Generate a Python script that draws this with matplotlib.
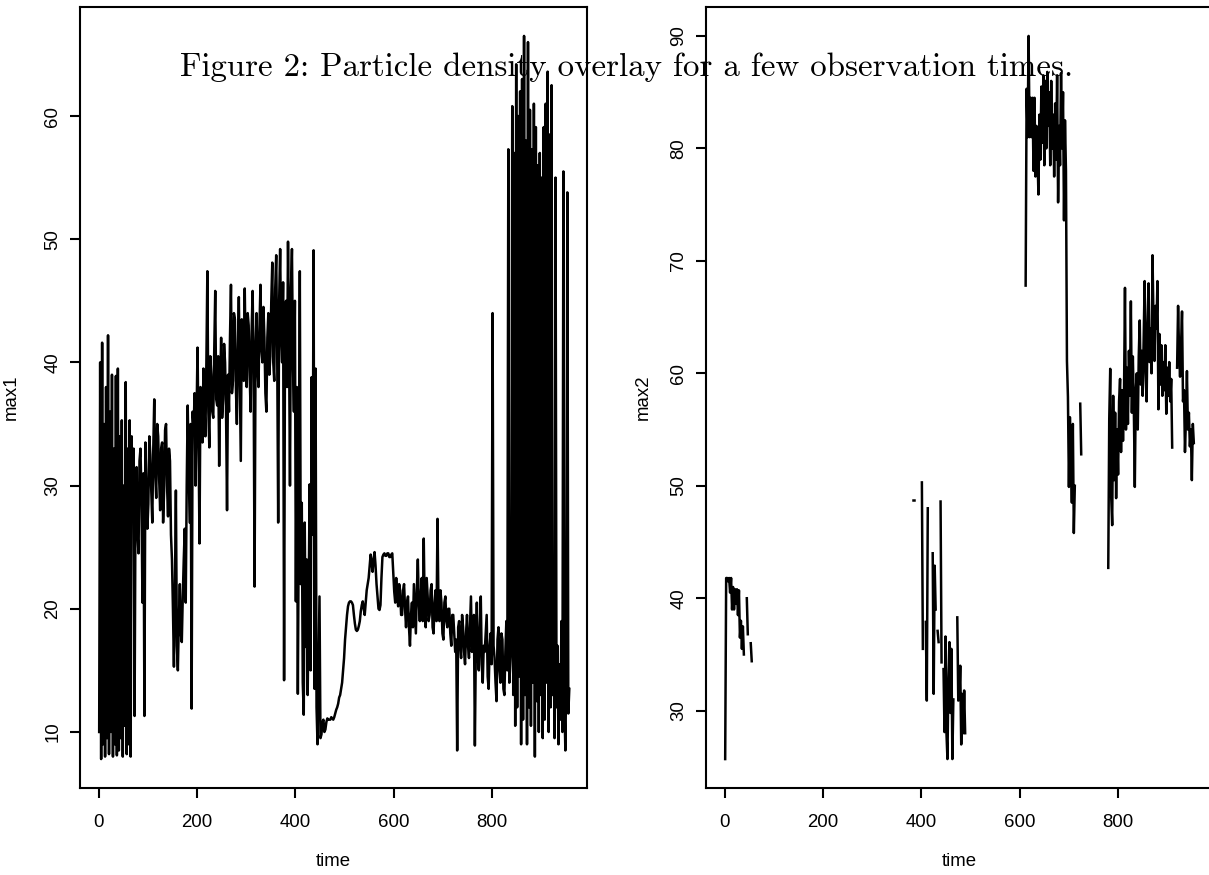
import numpy as np
import matplotlib
matplotlib.use("Agg")
import matplotlib.pyplot as plt

# max1: sampled every 2 time steps
time1 = np.arange(1, 958, 2)
max1 = [
    10.0, 40.0, 7.8, 41.6, 9.0, 35.0, 8.0, 38.0, 9.5, 42.2, 8.2, 36.0, 10.0, 39.0, 8.0, 33.0, 9.0, 38.9, 8.1, 39.5,
    8.5, 34.0, 9.5, 35.3, 8.0, 30.0, 10.5, 38.4, 8.2, 33.0, 9.0, 35.3, 8.0, 34.0, 28.0, 33.0, 11.3, 30.0, 31.5, 26.0,
    24.5, 32.0, 33.0, 29.0, 20.5, 31.0, 11.3, 33.5, 30.0, 26.5, 28.5, 34.0, 32.5, 29.5, 27.0, 33.0, 37.0, 31.0, 29.0, 35.0,
    34.0, 30.5, 28.0, 33.0, 33.5, 27.0, 29.5, 34.5, 35.0, 30.0, 27.5, 33.0, 32.0, 26.0, 24.0, 20.0, 15.3, 21.5, 29.6, 17.0,
    15.0, 19.0, 22.0, 18.0, 17.3, 21.0, 24.0, 26.5, 20.5, 30.0, 36.5, 32.0, 27.0, 35.0, 11.9, 36.0, 34.5, 37.5, 30.0, 35.5,
    41.2, 34.0, 25.3, 38.0, 36.0, 33.5, 39.5, 36.5, 34.0, 40.0, 47.4, 36.0, 33.1, 40.5, 39.0, 36.0, 35.5, 41.0, 45.8, 37.0,
    36.5, 40.5, 31.6, 38.0, 42.0, 35.5, 37.0, 41.5, 40.0, 36.0, 28.0, 39.0, 36.0, 42.0, 46.3, 37.5, 38.5, 44.0, 43.5, 38.0,
    35.0, 41.0, 45.3, 39.0, 32.0, 43.5, 42.0, 38.5, 46.0, 40.0, 38.0, 44.0, 43.0, 39.0, 36.0, 42.5, 45.8, 40.0, 21.8, 41.0,
    44.0, 39.5, 38.0, 43.0, 46.3, 41.0, 40.0, 44.5, 42.0, 37.5, 36.0, 42.0, 44.0, 39.0, 40.5, 45.0, 48.1, 40.0, 38.5, 46.0,
    48.7, 41.0, 27.0, 45.0, 49.2, 42.0, 40.0, 46.5, 14.2, 44.0, 45.0, 38.0, 49.8, 42.0, 30.0, 46.0, 49.2, 40.0, 36.0, 45.0,
    20.6, 38.0, 13.1, 28.0, 47.4, 22.0, 28.6, 14.0, 11.4, 27.0, 16.9, 24.0, 13.0, 21.0, 30.1, 15.0, 38.8, 26.0, 49.1, 13.5,
    39.5, 12.0, 9.0, 15.0, 21.0, 9.5, 9.8, 10.8, 11.0, 10.0, 10.2, 10.8, 11.1, 11.0, 11.0, 11.0, 11.2, 11.1, 11.0, 11.2,
    11.5, 11.8, 12.0, 12.3, 12.8, 13.0, 13.5, 14.0, 15.0, 16.0, 17.5, 18.5, 19.5, 20.2, 20.5, 20.6, 20.6, 20.5, 20.3, 19.5,
    18.8, 18.3, 18.2, 18.3, 18.6, 19.0, 19.8, 20.3, 20.6, 20.0, 19.5, 20.5, 21.5, 22.0, 22.5, 23.5, 24.4, 23.8, 23.0, 24.0,
    24.6, 23.5, 22.0, 21.0, 20.0, 19.9, 20.3, 22.5, 24.2, 24.4, 24.5, 24.3, 24.3, 24.5, 24.5, 24.2, 24.2, 24.4, 24.5, 23.0,
    21.4, 20.5, 22.5, 21.0, 20.2, 22.0, 21.5, 19.5, 19.5, 21.5, 22.0, 20.0, 18.5, 20.5, 21.0, 18.5, 17.0, 19.5, 20.5, 18.5,
    22.0, 20.0, 18.0, 21.5, 24.0, 20.5, 19.0, 21.0, 22.5, 19.0, 25.7, 20.0, 18.5, 22.5, 21.0, 19.0, 19.5, 21.5, 22.0, 18.5,
    18.0, 20.5, 21.5, 19.0, 27.3, 20.0, 19.0, 21.5, 20.5, 18.0, 17.5, 20.5, 21.0, 19.0, 18.5, 20.0, 20.0, 18.0, 17.0, 19.5,
    19.5, 18.0, 16.5, 17.5, 8.5, 18.5, 19.0, 17.0, 16.0, 19.5, 18.5, 16.5, 15.5, 18.0, 19.5, 17.0, 16.0, 18.5, 21.0, 16.5,
    17.5, 19.5, 8.9, 17.0, 20.5, 16.0, 15.0, 18.5, 21.0, 15.5, 14.0, 17.0, 16.5, 18.0, 19.5, 14.5, 13.5, 17.0, 18.0, 15.5,
    44.0, 17.0, 16.0, 14.0, 12.5, 17.5, 18.5, 15.0, 14.0, 18.0, 17.5, 13.5, 13.0, 16.5, 19.0, 15.0, 57.3, 14.0, 15.5, 17.0,
    60.8, 13.0, 57.0, 10.5, 64.2, 12.0, 60.0, 14.5, 62.0, 9.0, 63.0, 11.0, 66.5, 13.0, 58.0, 9.0, 66.0, 12.0, 60.5, 10.5,
    57.3, 14.0, 61.0, 8.0, 59.1, 12.5, 56.0, 10.0, 57.0, 13.0, 55.0, 9.5, 59.1, 11.0, 61.0, 14.0, 63.6, 10.0, 58.5, 12.0,
    62.5, 13.0, 18.0, 9.5, 55.0, 12.0, 17.0, 9.0, 15.5, 11.0, 19.0, 10.0, 55.5, 12.5, 8.5, 16.0, 53.8, 11.5, 13.5,
]

# max2: observed pieces, every 2 time steps, nan = missing
nan = np.nan
time2_a = np.arange(1, 57, 2)
max2_a = [25.7, 41.8, 41.8, 41.5, 41.8, 40.5, 41.8, 39.0, 41.0, 39.0,
          40.8, 39.5, 40.8, 38.5, 40.7, 36.5, 38.0, 35.5, 37.5, 35.0,
          nan, nan, 40.0, 36.8, nan, nan, 36.0, 34.4]
time2_b = [383, 384]
max2_b = [48.7, 48.7]
time2_c = np.arange(401, 491, 2)
max2_c = [50.3, 35.5, nan, nan, 37.9, 30.9, 48.0, nan, nan, nan,
          nan, 44.0, 31.5, 42.9, 39.0, nan, 37.1, 36.1, nan, 48.6,
          34.3, nan, 33.7, 28.1, 36.6, 28.0, 25.7, 33.0, 36.1, 29.8,
          35.5, 25.7, 31.0, nan, nan, nan, 38.3, 30.9, 31.0, 34.0,
          27.0, 31.5, 28.0, 31.8, 28.0]
time2_d = np.arange(612, 714, 2)
max2_d = [67.8, 85.3, 81.0, 90.0, 81.0, 84.5, 81.0, 84.5, 78.0, 84.5,
          77.5, 82.0, 79.5, 75.9, 83.0, 79.0, 85.5, 80.5, 86.5, 78.5,
          86.0, 80.0, 86.8, 82.0, 85.0, 78.5, 86.0, 80.0, 83.0, 77.5,
          84.0, 79.0, 86.5, 75.2, 82.0, 78.5, 86.7, 80.0, 85.0, 73.6,
          82.5, 78.0, 61.1, 57.9, 49.9, 56.1, 53.0, 48.5, 55.5, 45.8,
          50.0]
time2_e = [723, 725]
max2_e = [57.3, 52.8]
time2_f = np.arange(780, 956, 2)
max2_f = [42.7, 55.9, 60.4, 49.0, 46.5, 58.0, 50.5, 56.5, 48.9, 55.0,
          51.0, 57.5, 59.5, 53.0, 58.5, 54.0, 58.0, 67.6, 55.0, 60.5,
          55.5, 62.0, 58.0, 66.4, 56.5, 61.5, 57.0, 49.9, 58.5, 60.0,
          55.0, 61.5, 64.7, 59.0, 62.0, 58.0, 63.0, 68.2, 60.0, 57.5,
          64.5, 68.0, 61.0, 64.0, 60.0, 70.5, 64.5, 61.1, 66.0, 64.0,
          68.2, 56.8, 63.5, 59.0, 62.5, 58.0, 61.0, 58.5, 62.5, 56.4,
          60.5, 58.0, 61.0, 57.5, 59.5, 53.4, nan, nan, nan, nan,
          60.5, 66.0, 62.0, 59.7, 62.5, 65.5, 57.5, 58.5, 53.0, 56.0,
          60.2, 55.0, 56.5, 53.5, 55.0, 50.5, 55.5, 53.8]

W, H = 1209, 875
fig = plt.figure(figsize=(W / 100, H / 100), dpi=100)
tick_font = "Liberation Sans"
lw = 1.8


def r_axes(rect, ylab, yticks):
    ax = fig.add_axes(rect)
    ax.set_xlim(-38, 993)
    ax.set_xticks([0, 200, 400, 600, 800])
    ax.set_yticks(yticks)
    for s in ax.spines.values():
        s.set_linewidth(1.5)
    ax.tick_params(length=7, width=1.5, labelsize=13.4)
    ax.tick_params(axis="x", pad=12)
    ax.tick_params(axis="y", pad=6.5)
    for lab in ax.get_yticklabels():
        lab.set_rotation(90)
        lab.set_va("center")
    for lab in ax.get_xticklabels() + ax.get_yticklabels():
        lab.set_fontfamily(tick_font)
    ax.set_xlabel("time", fontsize=13.4, fontfamily=tick_font)
    ax.set_ylabel(ylab, fontsize=13.4, fontfamily=tick_font)
    return ax


def r_ylim(ax, vals):
    lo, hi = np.nanmin(vals), np.nanmax(vals)
    pad = 0.04 * (hi - lo)
    ax.set_ylim(lo - pad, hi + pad)


ax1 = r_axes([80 / W, 87 / H, 507 / W, 781 / H], "max1", [10, 20, 30, 40, 50, 60])
ax1.plot(time1, max1, color="black", lw=lw)
r_ylim(ax1, max1)
ax1.xaxis.set_label_coords(0.5, -0.083)
ax1.yaxis.set_label_coords(-0.118, 0.5)

ax2 = r_axes([706 / W, 87 / H, 507 / W, 781 / H], "max2", [30, 40, 50, 60, 70, 80, 90])
for tt, vv in [(time2_a, max2_a), (time2_b, max2_b), (time2_c, max2_c),
               (time2_d, max2_d), (time2_e, max2_e), (time2_f, max2_f)]:
    ax2.plot(tt, vv, color="black", lw=lw)
r_ylim(ax2, np.concatenate([max2_a, max2_c, max2_d, max2_f]))
ax2.xaxis.set_label_coords(0.5, -0.083)
ax2.yaxis.set_label_coords(-0.1065, 0.5)

fig.text(180 / W, 1 - 76 / H, "Figure 2: Particle density overlay for a few observation times.",
         fontfamily="cmr10", fontsize=23.7, ha="left", va="baseline", zorder=5)

fig.savefig("out.png", dpi=100)
